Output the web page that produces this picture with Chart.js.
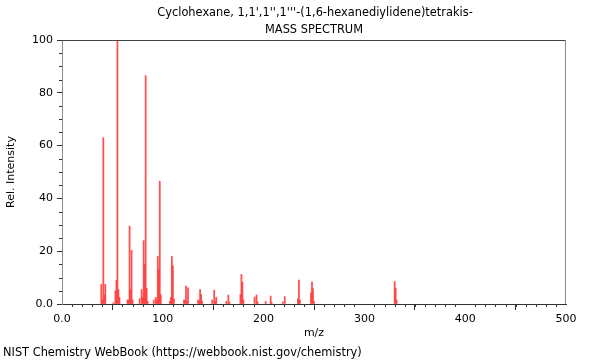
<!DOCTYPE html>
<html>
<head>
<meta charset="utf-8">
<script src="https://cdn.jsdelivr.net/npm/chart.js@4"></script>
<style>html,body{margin:0;padding:0;background:#fff}</style>
</head>
<body>
<canvas id="ms" width="600" height="360"></canvas>
<script>
const titleLines = ["Cyclohexane, 1,1',1'',1'''-(1,6-hexanediylidene)tetrakis-", 'MASS SPECTRUM'];
const footer = 'NIST Chemistry WebBook (https://webbook.nist.gov/chemistry)';

// peaks
const mz = [39, 40, 41, 42, 43,
  51, 53, 54, 55, 56, 57,
  65, 66, 67, 68, 69, 70,
  77, 79, 80, 81, 82, 83, 84, 85,
  91, 93, 94, 95, 96, 97, 98,
  107, 108, 109, 110, 111,
  121, 122, 123, 124, 125,
  135, 136, 137, 138, 139,
  149, 151, 152, 153,
  163, 165, 166,
  177, 178, 179, 180,
  191, 193, 194,
  202, 207, 208,
  219, 221,
  234, 235, 236,
  247, 248, 249, 250,
  330, 331, 332];
const intensity = [7.5, 1.5, 63, 3.5, 7.5,
  0.5, 5, 9, 100, 5.5, 2.5,
  1.5, 1.5, 29.5, 5.5, 20.3, 1.5,
  2, 5.5, 2.5, 24, 15, 86.5, 6, 1,
  1.5, 2.5, 1.5, 18, 13, 46.5, 3.5,
  1, 2.5, 18, 14.5, 2,
  1.5, 1.5, 6.8, 1, 6.1,
  1.5, 1, 5.5, 3.6, 1,
  1.5, 5.2, 1, 2.5,
  1, 3.4, 0.8,
  3.6, 11.2, 8.3, 1.5,
  2.6, 3.4, 0.8,
  1, 3, 0.6,
  0.8, 2.8,
  2, 9.1, 1.5,
  4.2, 8.3, 5.8, 1,
  8.5, 6, 1.5];

const xRange = [0, 500];
const yRange = [0, 100];

const fmt = v => v === 0 ? '0.0' : v;

Chart.defaults.font.family = '"DejaVu Sans", sans-serif';
Chart.defaults.font.size = 11;
Chart.defaults.color = '#000';

// box, minor ticks, titles
const decor = {
  id: 'decor',
  afterDraw(chart) {
    const { ctx, chartArea: a, scales: { x, y } } = chart;
    ctx.save();
    ctx.lineWidth = 1;
    ctx.strokeStyle = '#444';
    ctx.beginPath();
    ctx.moveTo(a.left, a.top + 0.5);
    ctx.lineTo(a.right, a.top + 0.5);
    ctx.stroke();
    ctx.strokeStyle = '#888';
    ctx.beginPath();
    ctx.moveTo(a.right - 0.5, a.top);
    ctx.lineTo(a.right - 0.5, a.bottom);
    ctx.stroke();

    ctx.strokeStyle = '#333';
    ctx.beginPath();
    for (let v = xRange[0]; v <= xRange[1]; v += 10) {
      if (v % 100 === 0) continue;
      const px = Math.round(x.getPixelForValue(v)) + 0.5;
      ctx.moveTo(px, a.bottom);
      ctx.lineTo(px, a.bottom + 3);
    }
    for (let v = yRange[0]; v <= yRange[1]; v += 5) {
      if (v % 20 === 0) continue;
      const py = Math.round(y.getPixelForValue(v)) + 0.5;
      ctx.moveTo(a.left, py);
      ctx.lineTo(a.left - 3, py);
    }
    ctx.stroke();

    ctx.fillStyle = '#000';
    ctx.font = '11.4px "DejaVu Sans"';
    ctx.textAlign = 'center';
    ctx.textBaseline = 'middle';
    const cx = (a.left + a.right) / 2;
    ctx.fillText(titleLines[0], cx + 1, 13.5);
    ctx.fillText(titleLines[1], cx, 30.5);
    ctx.textAlign = 'left';
    ctx.fillText(footer, 3, 353);
    ctx.restore();
  }
};

new Chart(document.getElementById('ms'), {
  type: 'bar',
  data: {
    datasets: [{
      data: mz.map((m, i) => ({ x: m, y: intensity[i] })),
      backgroundColor: 'rgba(255, 60, 60, 0.9)',
      borderWidth: 0,
      barThickness: 1.1
    }]
  },
  options: {
    responsive: false,
    animation: false,
    layout: { padding: { top: 40, right: 34, left: 0, bottom: 0 } },
    plugins: { legend: { display: false }, tooltip: { enabled: false } },
    scales: {
      x: {
        type: 'linear',
        min: xRange[0], max: xRange[1],
        offset: false,
        afterFit: s => { s.height = 56; },
        ticks: { stepSize: 100, maxRotation: 0, padding: 3, callback: fmt },
        grid: { drawOnChartArea: false, tickLength: 6, tickColor: '#333' },
        border: { color: '#333' },
        title: { display: true, text: 'm/z', padding: { top: 0, bottom: 20 } }
      },
      y: {
        min: yRange[0], max: yRange[1],
        afterFit: s => { s.width = 62; },
        ticks: { stepSize: 20, padding: 4, callback: fmt },
        grid: { drawOnChartArea: false, tickLength: 5, tickColor: '#333' },
        border: { color: '#888' },
        title: { display: true, text: 'Rel. Intensity', padding: { top: 5, bottom: 0 } }
      }
    }
  },
  plugins: [decor]
});
</script>
</body>
</html>
